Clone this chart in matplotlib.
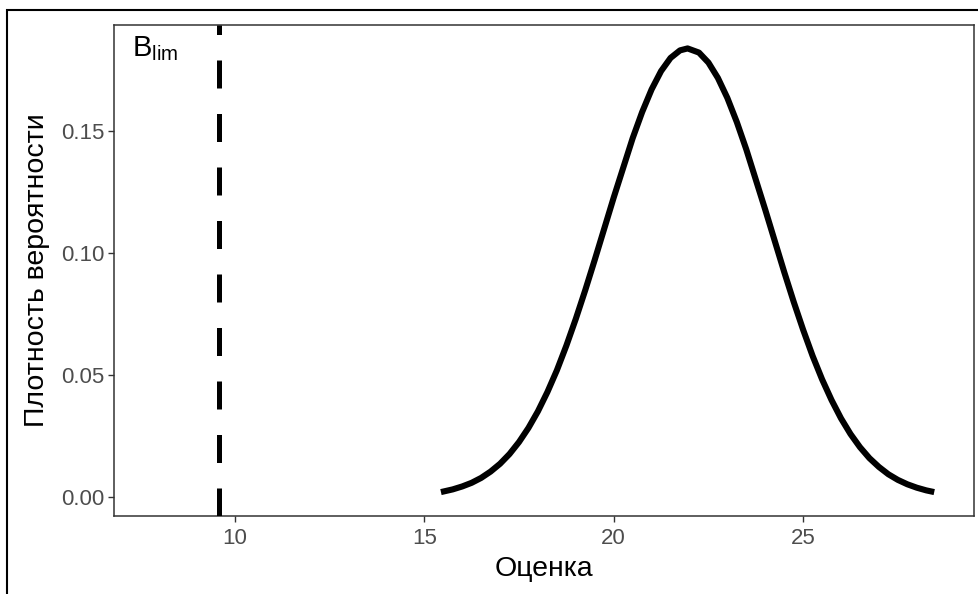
import matplotlib
matplotlib.use("Agg")
import matplotlib.pyplot as plt
from matplotlib.patches import Rectangle
import matplotlib.transforms as mtransforms

plt.rcParams['font.family'] = ['Liberation Sans', 'DejaVu Sans']
plt.rcParams['mathtext.fontset'] = 'custom'
plt.rcParams['mathtext.rm'] = 'Liberation Sans'
plt.rcParams['mathtext.it'] = 'Liberation Sans'

# Curve values
x_vals = [15.44, 15.75, 16.0, 16.25, 16.5, 16.75, 17.0, 17.25, 17.5, 17.75, 18.0,
          18.25, 18.5, 18.75, 19.0, 19.25, 19.5, 20.0, 20.5, 20.75,
          21.0, 21.25, 21.5, 21.75, 21.95, 22.25, 22.5, 22.75, 23.0, 23.25, 23.5,
          24.0, 24.5, 24.75, 25.0, 25.25, 25.5, 25.75, 26.0, 26.25, 26.5, 26.75,
          27.0, 27.25, 27.5, 27.75, 28.0, 28.25, 28.46]
density = [0.0020, 0.0031, 0.0043, 0.0058, 0.0078, 0.0104, 0.0136, 0.0176, 0.0225,
           0.0283, 0.0351, 0.0430, 0.0519, 0.0620, 0.0730, 0.0848, 0.0972,
           0.1227, 0.1470, 0.1577, 0.1670, 0.1745, 0.1799, 0.1830, 0.1838, 0.1821,
           0.1780, 0.1717, 0.1635, 0.1536, 0.1424, 0.1177, 0.0922, 0.0800, 0.0685,
           0.0578, 0.0482, 0.0397, 0.0322, 0.0258, 0.0204, 0.0159, 0.0123, 0.0093,
           0.0070, 0.0052, 0.0038, 0.0027, 0.0020]
b_lim = 9.59
x_ticks = [10, 15, 20, 25]
y_ticks = [0.00, 0.05, 0.10, 0.15]
y_tick_labels = ["0.00", "0.05", "0.10", "0.15"]
x_label = "Оценка"
y_label = "Плотность вероятности"
annot = r"$\mathrm{B}_{\mathrm{lim}}$"

W, H = 979, 594
fig = plt.figure(figsize=(W / 100, H / 100), dpi=100)
ax = fig.add_axes([114 / W, (H - 516) / H, (974 - 114) / W, (516 - 25) / H])

ax.plot(x_vals, density, color='black', lw=4.4, solid_capstyle='butt',
        solid_joinstyle='round', zorder=3)

trans = mtransforms.blended_transform_factory(ax.transData, ax.transAxes)
ax.plot([b_lim, b_lim], [0, 1], transform=trans, color='black', lw=3.6,
        linestyle=(0, (5.6, 5.1)), dash_capstyle='butt', zorder=3)

ax.set_xlim(6.81, 29.51)
ax.set_ylim(-0.0078, 0.1934)
ax.set_xticks(x_ticks)
ax.set_yticks(y_ticks)
ax.set_yticklabels(y_tick_labels)
ax.tick_params(axis='both', colors='#333333', labelcolor='#4d4d4d',
               labelsize=16, length=4, width=1)
ax.tick_params(axis='x', pad=5)
ax.tick_params(axis='y', pad=3)
for s in ax.spines.values():
    s.set_color('#333333')
    s.set_linewidth(1.1)

ax.set_xlabel(x_label, fontsize=20.5, color='black', labelpad=5)
ax.set_ylabel(y_label, fontsize=20.5, color='black', labelpad=8)

ax.text(132 / W, (H - 56) / H, annot, transform=fig.transFigure,
        fontsize=21, ha='left', va='baseline', color='black')

fig.patches.append(Rectangle((7 / W, -0.1), 1.2, (H - 10) / H + 0.1,
                             transform=fig.transFigure, fill=False,
                             edgecolor='black', lw=1.5))

fig.savefig("out.png", dpi=100, facecolor='white')
